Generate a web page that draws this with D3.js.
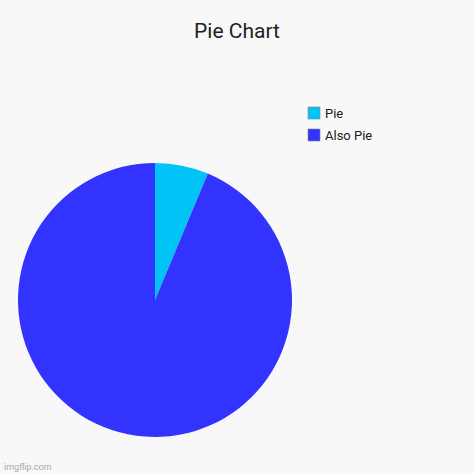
<!DOCTYPE html><html><head><meta charset="utf-8">
<script src="https://cdn.jsdelivr.net/npm/d3@7"></script>
<style>body{margin:0;background:#f8f8f8}</style></head><body>
<svg id="c" width="474" height="474"></svg>
<script>
const categories=["Pie","Also Pie"];
const values=[6.3,93.7];
const colors=["#00c4f6","#3333ff"];
const svg=d3.select("#c");
svg.append("rect").attr("width",474).attr("height",474).attr("fill","#f8f8f8");
svg.append("text").attr("x",237).attr("y",38).attr("text-anchor","middle")
 .attr("font-family","Roboto").attr("font-size",21).attr("fill","#222").text("Pie Chart");
const pie=d3.pie().sort(null)(values);
const arc=d3.arc().innerRadius(0).outerRadius(137);
svg.append("g").attr("transform","translate(155,300)").selectAll("path").data(pie).join("path")
 .attr("d",arc).attr("fill",(d,i)=>colors[i]);
const lg=svg.append("g").attr("transform","translate(308,107)");
categories.forEach((c,i)=>{
 const g=lg.append("g").attr("transform",`translate(0,${i*22})`);
 g.append("rect").attr("width",12).attr("height",12).attr("fill",colors[i]).attr("stroke","#888").attr("stroke-width",0.6);
 g.append("text").attr("x",17).attr("y",10.5).attr("font-family","Roboto").attr("font-size",13).attr("fill","#222").text(c);
});
svg.append("text").attr("x",4).attr("y",470).attr("font-family","Roboto").attr("font-size",9).attr("fill","#aaa").text("imgflip.com");
</script></body></html>
